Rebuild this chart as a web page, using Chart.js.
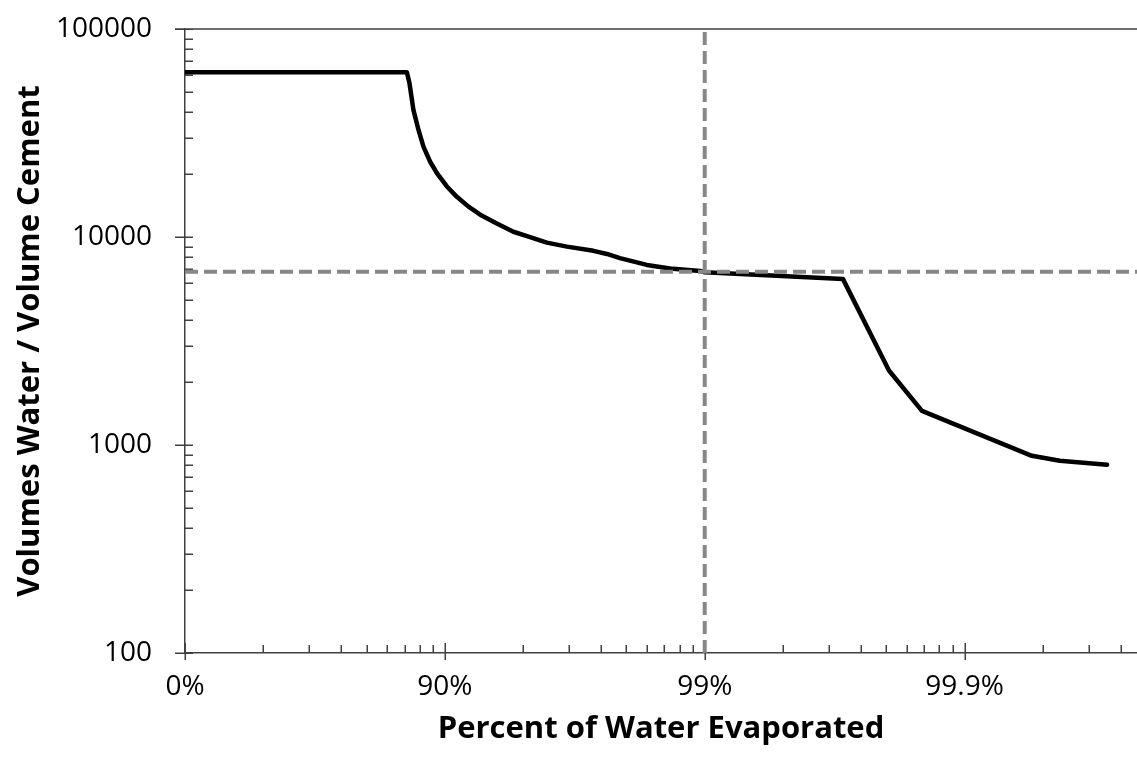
<!DOCTYPE html>
<html>
<head>
<meta charset="utf-8">
<script src="https://cdn.jsdelivr.net/npm/chart.js@4.4.1/dist/chart.umd.min.js"></script>
<style>
    html, body { margin: 0; padding: 0; background: #fff; }
</style>
</head>
<body>
<canvas id="graphique" width="1137" height="761"></canvas>
<script>
// ==========================================================
// DONNEES
// ==========================================================
const pourcentEvapore = [
    0, 86.0, 86.32, 86.79, 87.37, 87.91, 88.61, 89.27, 90.18, 91.01, 91.89,
    92.69, 93.69, 94.55, 95.30, 95.95, 96.61, 97.32, 97.62, 97.88, 98.33,
    98.64, 98.96, 99.0, 99.706, 99.8046, 99.8541, 99.9449, 99.957, 99.9717
];
const rapportVolumes = [
    62000, 62000, 54800, 40800, 32700, 27200, 23000, 20300, 17500, 15600, 14000,
    12800, 11600, 10600, 9980, 9400, 8990, 8580, 8290, 7910, 7340,
    7050, 6870, 6760, 6290, 2280, 1460, 887, 840, 803
];

// repères en pointillés
const reperePourcent = 99;
const repereRapport = 6800;

// axes
const etiquettesX = [0, 90, 99, 99.9];      // % évaporé
const etiquettesY = [100, 1000, 10000, 100000];
const limiteX = 99.9783;                    // bord droit de l'axe (%)

// ==========================================================
// OUTILS
// ==========================================================
// l'axe horizontal est logarithmique sur 1 / (eau restante)
const versEchelle = p => 100 / (100 - p);

function ticksLog(min, max) {
    const liste = [];
    for (let e = Math.floor(Math.log10(min)); Math.pow(10, e) <= max; e++) {
        for (let k = 1; k <= 9; k++) {
            const v = k * Math.pow(10, e);
            if (v >= min * 0.9999 && v <= max * 1.0001) liste.push({ value: v });
        }
    }
    return liste;
}

const estPuissanceDix = v => Math.abs(Math.log10(v) - Math.round(Math.log10(v))) < 1e-6;

// petites graduations (vers l'intérieur) + ligne du haut
const marquesAxes = {
    id: 'marquesAxes',
    beforeDatasetsDraw(chart) {
        const ctx = chart.ctx;
        const zone = chart.chartArea;
        const sx = chart.scales.x;
        const sy = chart.scales.y;
        ctx.save();
        ctx.strokeStyle = '#404040';
        ctx.lineWidth = 1.5;
        ctx.beginPath();
        sx.ticks.forEach(t => {
            const px = Math.round(sx.getPixelForValue(t.value)) + 0.25;
            if (estPuissanceDix(t.value)) {
                ctx.moveTo(px, zone.bottom - 10);
                ctx.lineTo(px, zone.bottom + 7);
            } else {
                ctx.moveTo(px, zone.bottom - 8);
                ctx.lineTo(px, zone.bottom);
            }
        });
        sy.ticks.forEach(t => {
            const py = Math.round(sy.getPixelForValue(t.value)) + 0.25;
            if (estPuissanceDix(t.value)) {
                ctx.moveTo(zone.left - 10, py);
                ctx.lineTo(zone.left + 8, py);
            } else {
                ctx.moveTo(zone.left, py);
                ctx.lineTo(zone.left + 8, py);
            }
        });
        ctx.moveTo(zone.left - 10, zone.top);
        ctx.lineTo(zone.right, zone.top);
        ctx.stroke();
        ctx.restore();
    }
};

// ==========================================================
// GRAPHIQUE
// ==========================================================
const pointsCourbe = pourcentEvapore.map((p, i) => ({ x: versEchelle(p), y: rapportVolumes[i] }));

const styleRepere = {
    borderColor: '#878787',
    borderWidth: 4,
    borderDash: [13, 6],
    pointRadius: 0,
    fill: false,
    order: 0
};

new Chart(document.getElementById('graphique').getContext('2d'), {
    type: 'line',
    data: {
        datasets: [
            Object.assign({
                data: [{ x: versEchelle(0), y: repereRapport }, { x: versEchelle(limiteX), y: repereRapport }]
            }, styleRepere),
            Object.assign({
                data: [{ x: versEchelle(reperePourcent), y: etiquettesY[0] }, { x: versEchelle(reperePourcent), y: etiquettesY[etiquettesY.length - 1] }]
            }, styleRepere),
            {
                data: pointsCourbe,
                borderColor: '#000',
                borderWidth: 4.5,
                pointRadius: 0,
                tension: 0,
                fill: false,
                borderJoinStyle: 'round',
                borderCapStyle: 'round',
                order: 1
            }
        ]
    },
    options: {
        responsive: false,
        animation: false,
        layout: { padding: { top: 29, right: 0, bottom: 0, left: 0 } },
        plugins: { legend: { display: false }, tooltip: { enabled: false } },
        scales: {
            x: {
                type: 'logarithmic',
                min: versEchelle(etiquettesX[0]),
                max: versEchelle(limiteX),
                // graduations dessinées par le plugin ; tickLength sert d'écart aux étiquettes
                grid: { display: false, drawTicks: true, tickLength: 17 },
                border: { display: true, color: '#404040', width: 1.5 },
                afterBuildTicks: s => { s.ticks = ticksLog(s.min, s.max); },
                afterFit: s => { s.height = 108; },
                ticks: {
                    autoSkip: false,
                    maxRotation: 0,
                    padding: 0,
                    color: '#000',
                    font: { family: 'Open Sans', size: 28 },
                    callback: v => {
                        const p = etiquettesX.find(q => Math.abs(versEchelle(q) - v) < 1e-6 * v);
                        return p === undefined ? '' : p + '%';
                    }
                },
                title: {
                    display: true,
                    text: 'Percent of Water Evaporated',
                    color: '#000',
                    font: { family: 'Open Sans', size: 31, weight: 'bold' },
                    padding: { top: 0, bottom: 13 }
                }
            },
            y: {
                type: 'logarithmic',
                min: etiquettesY[0],
                max: etiquettesY[etiquettesY.length - 1],
                grid: { display: false, drawTicks: true, tickLength: 33 },
                border: { display: true, color: '#404040', width: 1.5 },
                afterBuildTicks: s => { s.ticks = ticksLog(s.min, s.max); },
                afterFit: s => { s.width = 185; },
                ticks: {
                    autoSkip: false,
                    padding: 0,
                    color: '#000',
                    font: { family: 'Open Sans', size: 28 },
                    callback: v => etiquettesY.includes(v) ? String(v) : ''
                },
                title: {
                    display: true,
                    text: 'Volumes Water / Volume Cement',
                    color: '#000',
                    font: { family: 'Open Sans', size: 31, weight: 'bold' },
                    padding: { top: 12, bottom: 0 }
                }
            }
        }
    },
    plugins: [marquesAxes]
});
</script>
</body>
</html>
